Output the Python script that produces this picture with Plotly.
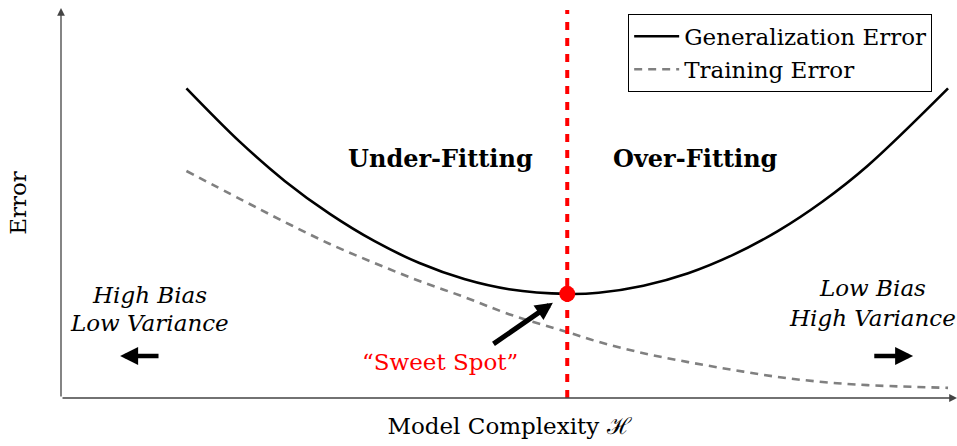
import plotly.graph_objects as go

# Data
complexity = [1.4, 2.0, 2.5, 3.0, 3.5, 4.0, 4.5, 5.0, 5.65, 6.0, 6.5, 7.0, 7.5, 8.0, 8.5, 9.0, 9.9]
generalization_error = [7.94, 6.56, 5.56, 4.72, 4.02, 3.46, 3.05, 2.79, 2.67, 2.70, 2.88, 3.20, 3.67, 4.28, 5.04, 5.95, 7.94]
training_error = [5.82, 5.10, 4.51, 3.95, 3.46, 3.00, 2.59, 2.15, 1.69, 1.44, 1.15, 0.92, 0.72, 0.54, 0.41, 0.33, 0.26]

sweet_spot_x = 5.65
sweet_spot_y = 2.67

FONT = "DejaVu Serif"
FS = 23

fig = go.Figure()
fig.add_trace(go.Scatter(
    x=complexity, y=generalization_error, mode="lines", line_shape="spline",
    name="Generalization Error", line=dict(color="black", width=2.6)))
fig.add_trace(go.Scatter(
    x=complexity, y=training_error, mode="lines", line_shape="spline",
    name="Training Error", line=dict(color="#808080", width=2.6, dash="8px,6px")))

# vertical red dashed line
fig.add_shape(type="line", x0=sweet_spot_x, x1=sweet_spot_x, y0=0, y1=9.95,
              line=dict(color="red", width=4, dash="8px,8px"), layer="above")
fig.add_trace(go.Scatter(x=[sweet_spot_x], y=[sweet_spot_y], mode="markers",
                         marker=dict(color="red", size=16), showlegend=False))

ann = []
# axes with arrows
ann.append(dict(x=10, y=0, ax=0, ay=0, xref="x", yref="y", axref="x", ayref="y",
                showarrow=True, arrowhead=2, arrowsize=1.2, arrowwidth=1.3, arrowcolor="#444", text=""))
ann.append(dict(x=0, y=10, ax=0, ay=0, xref="x", yref="y", axref="x", ayref="y",
                showarrow=True, arrowhead=2, arrowsize=1.2, arrowwidth=1.3, arrowcolor="#444", text=""))
# sweet spot arrow
ann.append(dict(x=5.49, y=2.44, ax=4.81, ay=1.36, xref="x", yref="y", axref="x", ayref="y",
                showarrow=True, arrowhead=2, arrowsize=0.7, arrowwidth=5, arrowcolor="black", text=""))
# left / right arrows
ann.append(dict(x=0.66, y=1.08, ax=1.105, ay=1.08, xref="x", yref="y", axref="x", ayref="y",
                showarrow=True, arrowhead=2, arrowsize=0.8, arrowwidth=4.5, arrowcolor="black", text=""))
ann.append(dict(x=9.51, y=1.08, ax=9.06, ay=1.08, xref="x", yref="y", axref="x", ayref="y",
                showarrow=True, arrowhead=2, arrowsize=0.8, arrowwidth=4.5, arrowcolor="black", text=""))

def txt(x, y, t, color="black", size=FS):
    ann.append(dict(x=x, y=y, xref="x", yref="y", text=t, showarrow=False,
                    font=dict(family=FONT, size=size, color=color), xanchor="center", yanchor="middle"))

txt(4.23, 6.13, "<b>Under-Fitting</b>", size=24)
txt(7.08, 6.13, "<b>Over-Fitting</b>", size=24)
txt(0.99, 2.64, "<i>High Bias</i>")
txt(0.99, 1.92, "<i>Low Variance</i>")
txt(9.06, 2.82, "<i>Low Bias</i>")
txt(9.06, 2.05, "<i>High Variance</i>")
txt(4.23, 0.92, "\u201cSweet Spot\u201d", color="red")

fig.update_layout(
    width=957, height=446,
    margin=dict(l=61, r=0, t=8, b=48),
    plot_bgcolor="white", paper_bgcolor="white",
    font=dict(family=FONT, size=FS, color="black"),
    annotations=ann,
    showlegend=True,
    legend=dict(x=0.633, y=0.985, xanchor="left", yanchor="top",
                bordercolor="black", borderwidth=1, bgcolor="white",
                font=dict(family=FONT, size=FS), itemwidth=45),
    xaxis=dict(range=[0, 10], showgrid=False, zeroline=False, showline=False,
               showticklabels=False, ticks="",
               title=dict(text="Model Complexity \u210b", standoff=19, font=dict(size=FS))),
    yaxis=dict(range=[0, 10], showgrid=False, zeroline=False, showline=False,
               showticklabels=False, ticks="",
               title=dict(text="Error", standoff=26, font=dict(size=FS))),
)

# remove the default page margin so the 957x446 figure fills the window exactly
fig.write_html("out.html",
               config={"displayModeBar": False},
               post_script="document.body.style.margin='0';"
                           "document.documentElement.style.overflow='hidden';")
